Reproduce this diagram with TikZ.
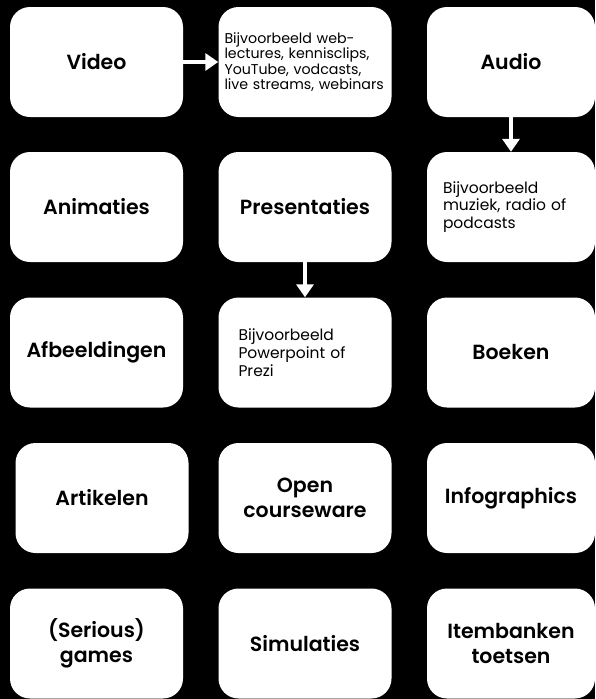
\documentclass[tikz,border=0pt]{standalone}
\usepackage{fontspec}
\setmainfont{Poppins}[BoldFont={Poppins SemiBold}]
\usetikzlibrary{arrows.meta}
\begin{document}
\begin{tikzpicture}[x=1pt,y=-1pt,
  box/.style={fill=white, rounded corners=20pt, minimum width=173pt, minimum height=110pt,
    inner sep=0pt, align=center, font=\bfseries\fontsize{20.5}{24.5}\selectfont},
  boxr/.style={box, minimum width=168pt},
  desc/.style={fill=white, rounded corners=20pt, minimum height=110pt, inner ysep=0pt,
    align=left, font=\fontsize{15.5}{17.8}\selectfont},
  arr/.style={draw=white, line width=4.5pt, -{Triangle[length=13pt,width=17pt]}}]
\fill[black] (0,0) rectangle (595,699);
\useasboundingbox (0,0) rectangle (595,699);
% row 1
\node[box] (video) at (96.5,62) {Video};
\node[desc, text width=161pt, inner xsep=6pt, font=\fontsize{14.2}{15.5}\selectfont] (web) at (305,62)
  {Bijvoorbeeld web-\\lectures, kennisclips,\\YouTube, vodcasts,\\live streams, webinars};
\node[boxr] (audio) at (511,62) {Audio};
% row 2
\node[box] (anim) at (96.5,207) {Animaties};
\node[box] (pres) at (305,207) {Presentaties};
\node[desc, text width=136pt, inner xsep=16pt] (audiodesc) at (511,207)
  {Bijvoorbeeld\\muziek, radio of\\podcasts};
% row 3
\node[box] (afb) at (96.5,352.5) {Afbeeldingen};
\node[desc, text width=133pt, inner xsep=20pt] (presdesc) at (305,352.5)
  {Bijvoorbeeld\\Powerpoint of\\Prezi};
\node[boxr] (boeken) at (511,352.5) {Boeken};
% row 4
\node[box] (art) at (102,498) {Artikelen};
\node[box] (open) at (305,498) {Open\\courseware};
\node[boxr] (info) at (511,498) {Infographics};
% row 5
\node[box] (games) at (96.5,643.5) {(Serious)\\games};
\node[box] (sim) at (305,643.5) {Simulaties};
\node[boxr] (item) at (511,643.5) {Itembanken\\toetsen};
% arrows
\draw[arr] (video.east) -- (web.west);
\draw[arr] (audio.south) -- (audiodesc.north);
\draw[arr] (pres.south) -- (presdesc.north);
\end{tikzpicture}
\end{document}
